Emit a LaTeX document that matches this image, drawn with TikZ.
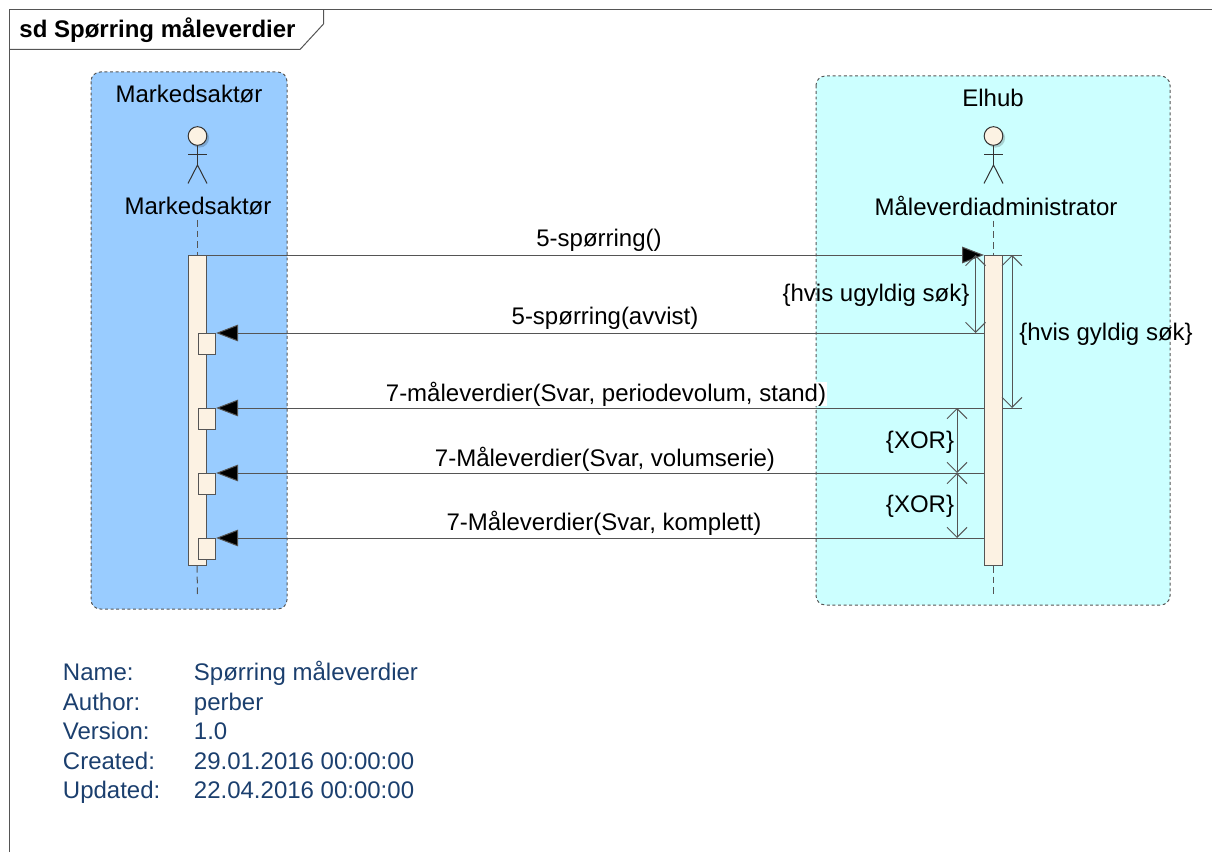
\documentclass[tikz,border=0pt]{standalone}
\usepackage{fontspec}
\setmainfont{Liberation Sans}
\usetikzlibrary{arrows.meta}
\definecolor{linegray}{HTML}{555555}
\definecolor{cream}{HTML}{FCF2E3}
\definecolor{metablue}{HTML}{1B3F6E}
\definecolor{laneblue}{HTML}{99CCFF}
\definecolor{lanecyan}{HTML}{CCFFFF}

\begin{document}
\begin{tikzpicture}[x=.75pt,y=-.75pt,font=\fontsize{18}{21}\selectfont,
  line width=.75pt,draw=linegray,
  lane/.style={draw=linegray,dash pattern=on 2.2pt off 2pt,rounded corners=7pt},
  bar/.style={draw=linegray,fill=cream,minimum width=13.5pt,inner sep=0pt,anchor=north},
  retbox/.style={draw=linegray,fill=cream,minimum width=13.2pt,minimum height=15.6pt,inner sep=0pt,anchor=north west},
  head/.style={circle,draw=black!80,fill=cream,minimum size=14pt,inner sep=0pt},
  limb/.style={draw=black!80},
  lifeline/.style={draw=linegray,dash pattern=on 5pt off 3pt},
  msg/.style={draw=linegray,-{Triangle[length=16.5pt,width=12.5pt,fill=black]}},
  measure/.style={draw=linegray,{Straight Barb[length=7.5pt,width=15pt,color=linegray]}-{Straight Barb[length=7.5pt,width=15pt,color=linegray]}},
  meta/.style={text=metablue,anchor=base west}]

  \useasboundingbox (0,0) rectangle (1212,852);

  % frame and title tab
  \draw (9.5,852) -- (9.5,9.5) -- (1212,9.5);
  \node[font=\fontsize{18}{21}\selectfont\bfseries,anchor=west] (title) at (14.5,30) {sd Spørring måleverdier};
  \draw (9.5,49.5) -- (300,49.5) -- (323.5,24) -- (323.5,9.5);

  % swimlanes
  \draw[lane,fill=laneblue] (91,72) rectangle (287,609);
  \draw[lane,fill=lanecyan] (816,76) rectangle (1170,605);
  \node (laneA) at (189,94) {Markedsaktør};
  \node (laneB) at (993,98) {Elhub};

  % left actor
  \fill[black,opacity=.18] (199.5,138) circle (7.2pt);
  \node[head] (headA) at (197.5,136) {};
  \coordinate (hipA) at (197.5,165);
  \draw[limb] (headA) -- (hipA);
  \draw[limb] (188,155) -- (207,155);
  \draw[limb] (188,183.5) -- (hipA) -- (207,183.5);
  \node (nameA) at (198,206) {Markedsaktør};

  % right actor
  \fill[black,opacity=.18] (995.5,138) circle (7.2pt);
  \node[head] (headB) at (993.5,136) {};
  \coordinate (hipB) at (993.5,165);
  \draw[limb] (headB) -- (hipB);
  \draw[limb] (984,155) -- (1003,155);
  \draw[limb] (984,183.5) -- (hipB) -- (1003,183.5);
  \node (nameB) at (996,206) {Måleverdiadministrator};

  % activations
  \node[bar,minimum height=232.5pt] (barA) at (197,255) {};
  \node[bar,minimum height=232.5pt] (barB) at (993.5,255) {};
  \coordinate (endA) at (197.5,594);
  \coordinate (endB) at (993.5,594);
  \draw[lifeline] (nameA.south -| barA.north) -- (barA.north);
  \draw[lifeline] (nameB.south -| barB.north) -- (barB.north);
  \draw[lifeline] (barA.south) -- (endA);
  \draw[lifeline] (barB.south) -- (endB);

  \node[retbox] (ret1) at (197.5,333) {};
  \node[retbox] (ret2) at (197.5,408) {};
  \node[retbox] (ret3) at (197.5,473) {};
  \node[retbox] (ret4) at (197.5,538) {};

  % messages
  \draw[msg] (barA.north east) -- (barB.north west);
  \draw[msg] (barB.west |- ret1.north) -- (ret1.north east);
  \draw[msg] (barB.west |- ret2.north) -- (ret2.north east);
  \draw[msg] (barB.west |- ret3.north) -- (ret3.north east);
  \draw[msg] (barB.west |- ret4.north) -- (ret4.north east);

  \node (lab1) at (599,240) {5-spørring()};
  \node (lab2) at (605,318) {5-spørring(avvist)};
  \node[fill=white,inner xsep=1pt,inner ysep=0pt] (lab3) at (606,394) {7-måleverdier(Svar, periodevolum, stand)};
  \node (lab4) at (605,459) {7-Måleverdier(Svar, volumserie)};
  \node (lab5) at (604,523) {7-Måleverdier(Svar, komplett)};

  % constraints
  \coordinate (topR) at (1022,255);
  \coordinate (lowR) at (1022,408);
  \draw (barB.north east) -- (topR);
  \draw (barB.east |- lowR) -- (lowR);
  \coordinate (ugA) at (975.5,255);
  \coordinate (ugB) at (975.5,333);
  \coordinate (gyA) at (1012,255);
  \coordinate (gyB) at (1012,408);
  \coordinate (xorA) at (957,408);
  \coordinate (xorB) at (957,473);
  \coordinate (xorC) at (957,538);
  \draw[measure] (ugA) -- (ugB);
  \draw[measure] (gyA) -- (gyB);
  \draw[measure] (xorA) -- (xorB);
  \draw[measure] (xorB) -- (xorC);

  \node (ugyldig) at (876,295) {\{hvis ugyldig søk\}};
  \node (gyldig) at (1106,334) {\{hvis gyldig søk\}};
  \node (xor1) at (920,442) {\{XOR\}};
  \node (xor2) at (920,506) {\{XOR\}};

  % properties
  \node[meta] (k1) at (58,680) {Name:};
  \node[meta] (k2) at (58,710) {Author:};
  \node[meta] (k3) at (58,739) {Version:};
  \node[meta] (k4) at (58,769) {Created:};
  \node[meta] (k5) at (58,798) {Updated:};
  \node[meta] (v1) at (189,680) {Spørring måleverdier};
  \node[meta] (v2) at (189,710) {perber};
  \node[meta] (v3) at (189,739) {1.0};
  \node[meta] (v4) at (189,769) {29.01.2016 00:00:00};
  \node[meta] (v5) at (189,798) {22.04.2016 00:00:00};
\end{tikzpicture}
\end{document}
